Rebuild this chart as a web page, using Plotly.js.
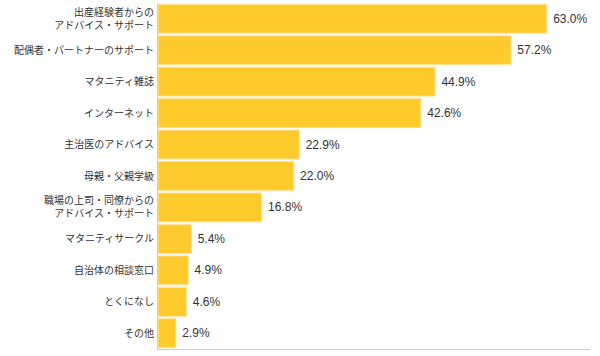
<!DOCTYPE html>
<html><head><meta charset="utf-8">
<script src="https://cdn.plot.ly/plotly-3.0.1.min.js"></script>
<style>html,body{margin:0;padding:0;background:#fff}#chart{width:600px;height:356px}</style>
</head><body><div id="chart"></div>
<script>
const categories = [
  "出産経験者からの<br>アドバイス・サポート",
  "配偶者・パートナーのサポート",
  "マタニティ雑誌",
  "インターネット",
  "主治医のアドバイス",
  "母親・父親学級",
  "職場の上司・同僚からの<br>アドバイス・サポート",
  "マタニティサークル",
  "自治体の相談窓口",
  "とくになし",
  "その他"
];
const values = [63.0, 57.2, 44.9, 42.6, 22.9, 22.0, 16.8, 5.4, 4.9, 4.6, 2.9];
const valueLabels = values.map(v => "\u00a0" + v.toFixed(1) + "%");

const trace = {
  type: "bar",
  orientation: "h",
  y: categories,
  x: values,
  text: valueLabels,
  textposition: "outside",
  cliponaxis: false,
  textfont: {size: 12, color: "#333333", family: "Liberation Sans, Arial, sans-serif"},
  marker: {color: "#FFCA2C", line: {color: "#FFE39A", width: 1}},
  hoverinfo: "none"
};
const layout = {
  width: 600, height: 356,
  margin: {l: 158, r: 10, t: 3, b: 7},
  paper_bgcolor: "#ffffff", plot_bgcolor: "#ffffff",
  bargap: 0.08,
  showlegend: false,
  font: {family: "Noto Sans CJK JP, sans-serif", color: "#333333", size: 10},
  xaxis: {range: [0, 70], showgrid: false, zeroline: false, showticklabels: false,
          showline: true, linecolor: "#cccccc", linewidth: 1, ticks: ""},
  yaxis: {autorange: "reversed", showgrid: false, zeroline: false,
          showline: true, linecolor: "#cccccc", linewidth: 1, ticks: "",
          ticklabelstandoff: 1,
          tickfont: {size: 10, color: "#333333", family: "Noto Sans CJK JP, sans-serif"}}
};
Plotly.newPlot("chart", [trace], layout, {displayModeBar: false, staticPlot: true});
</script></body></html>
